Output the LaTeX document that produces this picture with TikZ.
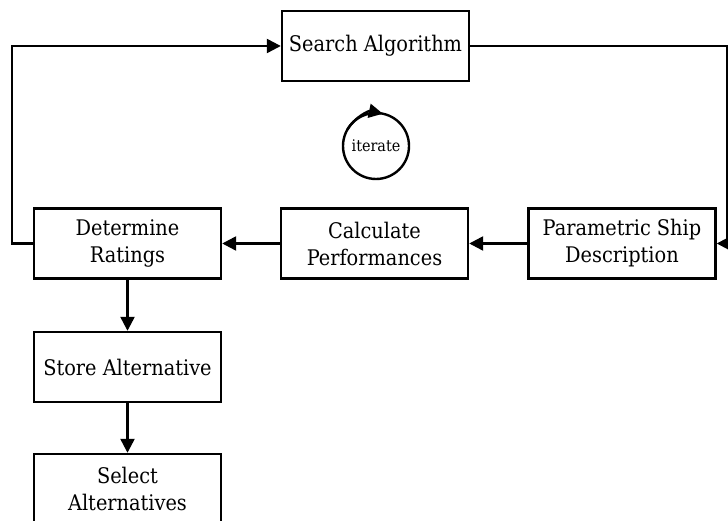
\documentclass[tikz,border=0pt]{standalone}
\usepackage{fontspec}
\setmainfont{DejaVu Serif Condensed}
\usetikzlibrary{arrows.meta}
\begin{document}
\begin{tikzpicture}[x=1pt,y=1pt,
  line width=2.4pt,
  proc/.style={draw,rectangle,minimum width=187pt,minimum height=70pt,
    inner sep=0pt,align=center,font=\fontsize{21.5}{27}\selectfont},
  flow/.style={-{Triangle[length=14pt,width=14pt]}}]
  \useasboundingbox (0,0) rectangle (728,521);
  % process boxes
  \node[proc] (search) at (375.5,475) {Search Algorithm};
  \node[proc] (rate)   at (127.5,277.5) {Determine\\Ratings};
  \node[proc] (perf)   at (374.5,277.5) {Calculate\\Performances};
  \node[proc] (ship)   at (622,277.5) {Parametric Ship\\Description};
  \node[proc] (store)  at (127.5,154) {Store Alternative};
  \node[proc] (select) at (127.5,32) {Select\\Alternatives};
  % iteration symbol
  \node[draw,circle,minimum size=66pt,inner sep=0pt,outer sep=0pt,
    font=\fontsize{16}{20}\selectfont] (iter) at (376,375) {iterate};
  \draw[flow] ([shift={(150:33)}]iter.center)
    arc[start angle=150,end angle=78,radius=33pt];
  % loop connectors
  \coordinate (lt) at (12,475);
  \coordinate (lb) at (12,277.5);
  \coordinate (rt) at (727,475);
  \coordinate (rb) at (727,277.5);
  \draw[flow] (rate.west) -- (lb) -- (lt) -- (search.west);
  \draw[flow] (search.east) -- (rt) -- (rb) -- (ship.east);
  \draw[flow] (ship.west) -- (perf.east);
  \draw[flow] (perf.west) -- (rate.east);
  \draw[flow] (rate.south) -- (store.north);
  \draw[flow] (store.south) -- (select.north);
\end{tikzpicture}
\end{document}
